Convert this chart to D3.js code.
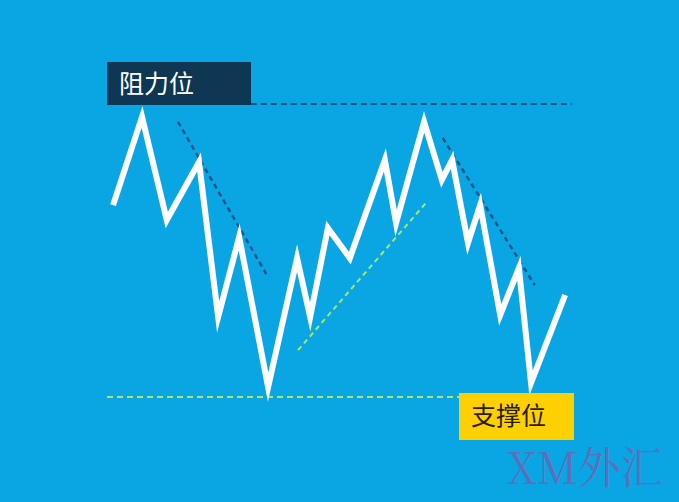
<!DOCTYPE html>
<html>
<head>
<meta charset="utf-8">
<script src="https://cdn.jsdelivr.net/npm/d3@7/dist/d3.min.js"></script>
<style>
  html, body { margin: 0; padding: 0; background: #0aa6e4; }
  svg { display: block; }
</style>
</head>
<body>
<svg id="chart" width="679" height="502"></svg>
<script>
// ---- data ----
const timeIdx = [1.3, 7.5, 12.8, 19.7, 23.8, 28.3, 34.5, 40.7, 43.5, 47.3, 52.0, 59.5, 61.9, 67.9, 71.7, 73.9, 77.3, 79.9, 84.2, 88.2, 90.8, 98.1];
const priceVals = [65.5, 95.6, 60.4, 80.2, 27.3, 54.6, 3.4, 47.4, 27.3, 57.7, 47.4, 80.9, 59.4, 93.9, 74.1, 80.9, 52.6, 65.5, 28.0, 44.0, 4.8, 34.8];
const resistanceLevel = 100;
const supportLevel = 0;
const resistanceSpan = [30.8, 99.6];
const supportSpan = [0, 75.6];
const downTrend1 = [[15.2, 93.9], [34.5, 40.9]];
const downTrend2 = [[71.9, 88.4], [91.6, 38.2]];
const upTrend = [[40.9, 16.0], [68.5, 66.6]];
const labels = ["阻力位", "支撑位"];
const watermark = "XM外汇";

// ---- scales ----
const svg = d3.select("#chart");
const x = d3.scaleLinear().domain([0, 100]).range([107, 574]);
const y = d3.scaleLinear().domain([0, 100]).range([397, 104]);

svg.append("rect").attr("width", 679).attr("height", 502).attr("fill", "#0aa6e4");

// resistance dashed line
svg.append("line")
  .attr("x1", x(resistanceSpan[0])).attr("x2", x(resistanceSpan[1]))
  .attr("y1", y(resistanceLevel)).attr("y2", y(resistanceLevel))
  .attr("stroke", "#1b5589").attr("stroke-width", 2).attr("stroke-dasharray", "6,4");

// support dashed line
svg.append("line")
  .attr("x1", x(supportSpan[0])).attr("x2", x(supportSpan[1]))
  .attr("y1", y(supportLevel)).attr("y2", y(supportLevel))
  .attr("stroke", "#a6e86a").attr("stroke-width", 2).attr("stroke-dasharray", "6,4");

// trend lines
const trendLine = d3.line().x(d => x(d[0])).y(d => y(d[1]));
[downTrend1, downTrend2].forEach(t => {
  svg.append("path").attr("d", trendLine(t))
    .attr("fill", "none").attr("stroke", "#1b5589")
    .attr("stroke-width", 2.5).attr("stroke-dasharray", "5,4");
});
svg.append("path").attr("d", trendLine(upTrend))
  .attr("fill", "none").attr("stroke", "#a6e86a")
  .attr("stroke-width", 2).attr("stroke-dasharray", "5,4");

// price line
const pts = timeIdx.map((t, i) => [t, priceVals[i]]);
svg.append("path").attr("d", d3.line().x(d => x(d[0])).y(d => y(d[1]))(pts))
  .attr("fill", "none").attr("stroke", "#ffffff")
  .attr("stroke-width", 6).attr("stroke-linejoin", "miter").attr("stroke-miterlimit", 10);

// resistance label
svg.append("rect").attr("x", 107).attr("y", 62).attr("width", 144).attr("height", 43).attr("fill", "#0d3752");
svg.append("text").attr("x", 119).attr("y", 93)
  .attr("font-family", "'Noto Sans CJK SC', sans-serif").attr("font-size", 25)
  .attr("fill", "#ffffff").text(labels[0]);

// support label
svg.append("rect").attr("x", 459).attr("y", 393).attr("width", 115).attr("height", 47).attr("fill", "#ffd000");
svg.append("text").attr("x", 471).attr("y", 425)
  .attr("font-family", "'Noto Sans CJK SC', sans-serif").attr("font-size", 25)
  .attr("fill", "#2a1c00").text(labels[1]);

// watermark
svg.append("text").attr("x", 507).attr("y", 484)
  .attr("font-family", "'Noto Serif CJK SC', 'DejaVu Serif', serif").attr("font-size", 44)
  .attr("textLength", 156).attr("lengthAdjust", "spacingAndGlyphs")
  .attr("fill", "rgba(170,60,150,0.55)").text(watermark);
</script>
</body>
</html>
